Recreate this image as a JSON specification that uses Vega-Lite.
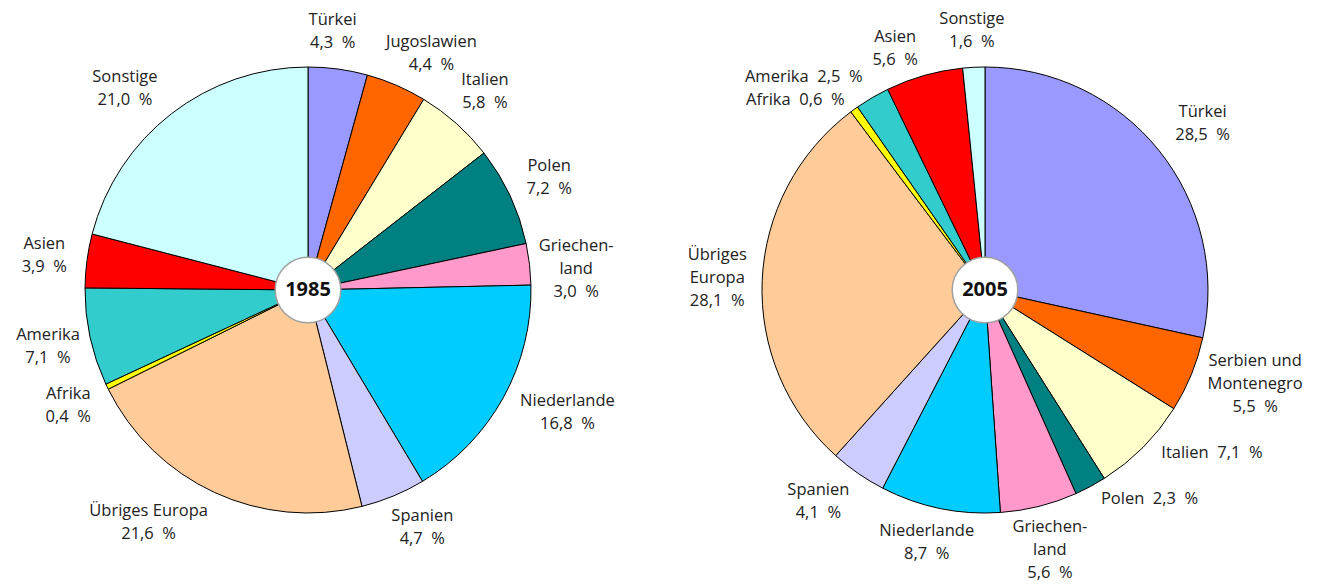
{
  "$schema": "https://vega.github.io/schema/vega-lite/v6.json",
  "padding": {"top": -26, "left": 0, "right": 0, "bottom": 0},
  "spacing": 36,
  "bounds": "flush",
  "background": "#ffffff",
  "datasets": {
    "d1985": [
      {"idx": 1, "name": "Türkei", "value": 4.3, "label": "Türkei\n4,3\u00a0 %"},
      {"idx": 2, "name": "Jugoslawien", "value": 4.4, "label": "Jugoslawien\n4,4\u00a0 %"},
      {"idx": 3, "name": "Italien", "value": 5.8, "label": "Italien\n5,8\u00a0 %"},
      {"idx": 4, "name": "Polen", "value": 7.2, "label": "Polen\n7,2\u00a0 %"},
      {"idx": 5, "name": "Griechenland", "value": 3.0, "label": "Griechen-\nland\n3,0\u00a0 %"},
      {"idx": 6, "name": "Niederlande", "value": 16.8, "label": "Niederlande\n16,8\u00a0 %"},
      {"idx": 7, "name": "Spanien", "value": 4.7, "label": "Spanien\n4,7\u00a0 %"},
      {"idx": 8, "name": "Übriges Europa", "value": 21.6, "label": "Übriges Europa\n21,6\u00a0 %"},
      {"idx": 9, "name": "Afrika", "value": 0.4, "label": "Afrika\n0,4\u00a0 %"},
      {"idx": 10, "name": "Amerika", "value": 7.1, "label": "Amerika\n7,1\u00a0 %"},
      {"idx": 11, "name": "Asien", "value": 3.9, "label": "Asien\n3,9\u00a0 %"},
      {"idx": 12, "name": "Sonstige", "value": 21.0, "label": "Sonstige\n21,0\u00a0 %"}
    ],
    "d2005": [
      {"idx": 1, "name": "Türkei", "value": 28.5, "label": "Türkei\n28,5\u00a0 %"},
      {"idx": 2, "name": "Serbien und Montenegro", "value": 5.5, "label": "Serbien und\nMontenegro\n5,5\u00a0 %"},
      {"idx": 3, "name": "Italien", "value": 7.1, "label": "Italien\u00a0 7,1\u00a0 %"},
      {"idx": 4, "name": "Polen", "value": 2.3, "label": "Polen\u00a0 2,3\u00a0 %"},
      {"idx": 5, "name": "Griechenland", "value": 5.6, "label": "Griechen-\nland\n5,6\u00a0 %"},
      {"idx": 6, "name": "Niederlande", "value": 8.7, "label": "Niederlande\n8,7\u00a0 %"},
      {"idx": 7, "name": "Spanien", "value": 4.1, "label": "Spanien\n4,1\u00a0 %"},
      {"idx": 8, "name": "Übriges Europa", "value": 28.1, "label": "Übriges\nEuropa\n28,1\u00a0 %"},
      {"idx": 9, "name": "Afrika", "value": 0.6, "label": "Afrika\u00a0 0,6\u00a0 %"},
      {"idx": 10, "name": "Amerika", "value": 2.5, "label": "Amerika\u00a0 2,5\u00a0 %"},
      {"idx": 11, "name": "Asien", "value": 5.6, "label": "Asien\n5,6\u00a0 %"},
      {"idx": 12, "name": "Sonstige", "value": 1.6, "label": "Sonstige\n1,6\u00a0 %"}
    ],
    "y1985": [{"year": "1985"}],
    "y2005": [{"year": "2005"}]
  },
  "hconcat": [
    {
      "width": 616,
      "height": 576,
      "data": {"name": "d1985"},
      "layer": [
        {
          "mark": {"type": "arc", "radius": 223, "stroke": "#000000", "strokeWidth": 1},
          "encoding": {
            "theta": {"field": "value", "type": "quantitative", "stack": true},
            "order": {"field": "idx", "type": "quantitative"},
            "color": {
              "field": "name", "type": "nominal", "legend": null,
              "scale": {
                "domain": ["Türkei", "Jugoslawien", "Serbien und Montenegro", "Italien", "Polen", "Griechenland", "Niederlande", "Spanien", "Übriges Europa", "Afrika", "Amerika", "Asien", "Sonstige"],
                "range": ["#9999ff", "#ff6600", "#ff6600", "#ffffcc", "#008080", "#ff99cc", "#00ccff", "#ccccff", "#ffcc99", "#ffff00", "#33cccc", "#ff0000", "#ccffff"]
              }
            }
          }
        },
        {
          "mark": {"type": "text", "radius": 266, "dy": -11.5},
          "encoding": {
            "theta": {"field": "value", "type": "quantitative", "stack": true},
            "order": {"field": "idx", "type": "quantitative"},
            "text": {"condition": {"test": "indexof(['Türkei','Jugoslawien','Griechenland','Niederlande','Spanien','Übriges Europa','Sonstige'], datum.name) < 0", "field": "label"}, "value": ""}
          }
        },
        {
          "mark": {"type": "text", "radius": 260, "thetaOffset": -0.04, "dy": -11.5},
          "encoding": {
            "theta": {"field": "value", "type": "quantitative", "stack": true},
            "order": {"field": "idx", "type": "quantitative"},
            "text": {"condition": {"test": "datum.name === 'Türkei'", "field": "label"}, "value": ""}
          }
        },
        {
          "mark": {"type": "text", "radius": 267, "thetaOffset": 0.073, "dy": -11.5},
          "encoding": {
            "theta": {"field": "value", "type": "quantitative", "stack": true},
            "order": {"field": "idx", "type": "quantitative"},
            "text": {"condition": {"test": "datum.name === 'Jugoslawien'", "field": "label"}, "value": ""}
          }
        },
        {
          "mark": {"type": "text", "radius": 269, "thetaOffset": 0.038, "dy": -23},
          "encoding": {
            "theta": {"field": "value", "type": "quantitative", "stack": true},
            "order": {"field": "idx", "type": "quantitative"},
            "text": {"condition": {"test": "datum.name === 'Griechenland'", "field": "label"}, "value": ""}
          }
        },
        {
          "mark": {"type": "text", "radius": 287, "thetaOffset": -0.063, "dy": -11.5},
          "encoding": {
            "theta": {"field": "value", "type": "quantitative", "stack": true},
            "order": {"field": "idx", "type": "quantitative"},
            "text": {"condition": {"test": "datum.name === 'Niederlande'", "field": "label"}, "value": ""}
          }
        },
        {
          "mark": {"type": "text", "radius": 264, "thetaOffset": -0.056, "dy": -11.5},
          "encoding": {
            "theta": {"field": "value", "type": "quantitative", "stack": true},
            "order": {"field": "idx", "type": "quantitative"},
            "text": {"condition": {"test": "datum.name === 'Spanien'", "field": "label"}, "value": ""}
          }
        },
        {
          "mark": {"type": "text", "radius": 282, "thetaOffset": 0.168, "dy": -11.5},
          "encoding": {
            "theta": {"field": "value", "type": "quantitative", "stack": true},
            "order": {"field": "idx", "type": "quantitative"},
            "text": {"condition": {"test": "datum.name === 'Übriges Europa'", "field": "label"}, "value": ""}
          }
        },
        {
          "mark": {"type": "text", "radius": 272, "thetaOffset": -0.080, "dy": -11.5},
          "encoding": {
            "theta": {"field": "value", "type": "quantitative", "stack": true},
            "order": {"field": "idx", "type": "quantitative"},
            "text": {"condition": {"test": "datum.name === 'Sonstige'", "field": "label"}, "value": ""}
          }
        },
        {
          "data": {"name": "y1985"},
          "mark": {"type": "circle", "size": 4300, "fill": "#ffffff", "stroke": "#a0a0a0", "strokeWidth": 1.5, "opacity": 1, "fillOpacity": 1},
          "encoding": {}
        },
        {
          "data": {"name": "y1985"},
          "mark": {"type": "text", "fontSize": 20, "fontWeight": "bold", "color": "#111111"},
          "encoding": {"text": {"field": "year", "type": "nominal"}}
        }
      ]
    },
    {
      "width": 666,
      "height": 576,
      "data": {"name": "d2005"},
      "layer": [
        {
          "mark": {"type": "arc", "radius": 223, "stroke": "#000000", "strokeWidth": 1},
          "encoding": {
            "theta": {"field": "value", "type": "quantitative", "stack": true},
            "order": {"field": "idx", "type": "quantitative"},
            "color": {
              "field": "name", "type": "nominal", "legend": null,
              "scale": {
                "domain": ["Türkei", "Jugoslawien", "Serbien und Montenegro", "Italien", "Polen", "Griechenland", "Niederlande", "Spanien", "Übriges Europa", "Afrika", "Amerika", "Asien", "Sonstige"],
                "range": ["#9999ff", "#ff6600", "#ff6600", "#ffffcc", "#008080", "#ff99cc", "#00ccff", "#ccccff", "#ffcc99", "#ffff00", "#33cccc", "#ff0000", "#ccffff"]
              }
            }
          }
        },
        {
          "mark": {"type": "text", "radius": 268, "dy": -23},
          "encoding": {
            "theta": {"field": "value", "type": "quantitative", "stack": true},
            "order": {"field": "idx", "type": "quantitative"},
            "text": {"condition": {"test": "indexof(['Griechenland','Übriges Europa'], datum.name) >= 0", "field": "label"}, "value": ""}
          }
        },
        {
          "mark": {"type": "text", "radius": 274, "thetaOffset": 0.024, "dy": -11.5},
          "encoding": {
            "theta": {"field": "value", "type": "quantitative", "stack": true},
            "order": {"field": "idx", "type": "quantitative"},
            "text": {"condition": {"test": "datum.name === 'Türkei'", "field": "label"}, "value": ""}
          }
        },
        {
          "mark": {"type": "text", "radius": 286, "thetaOffset": -0.054, "dy": -23},
          "encoding": {
            "theta": {"field": "value", "type": "quantitative", "stack": true},
            "order": {"field": "idx", "type": "quantitative"},
            "text": {"condition": {"test": "datum.name === 'Serbien und Montenegro'", "field": "label"}, "value": ""}
          }
        },
        {
          "mark": {"type": "text", "radius": 240, "thetaOffset": -0.038, "align": "left"},
          "encoding": {
            "theta": {"field": "value", "type": "quantitative", "stack": true},
            "order": {"field": "idx", "type": "quantitative"},
            "text": {"condition": {"test": "datum.name === 'Italien'", "field": "label"}, "value": ""}
          }
        },
        {
          "mark": {"type": "text", "radius": 239, "thetaOffset": -0.014, "align": "left"},
          "encoding": {
            "theta": {"field": "value", "type": "quantitative", "stack": true},
            "order": {"field": "idx", "type": "quantitative"},
            "text": {"condition": {"test": "datum.name === 'Polen'", "field": "label"}, "value": ""}
          }
        },
        {
          "mark": {"type": "text", "radius": 259, "thetaOffset": 0.023, "dy": -11.5},
          "encoding": {
            "theta": {"field": "value", "type": "quantitative", "stack": true},
            "order": {"field": "idx", "type": "quantitative"},
            "text": {"condition": {"test": "datum.name === 'Niederlande'", "field": "label"}, "value": ""}
          }
        },
        {
          "mark": {"type": "text", "radius": 269, "thetaOffset": 0.063, "dy": -11.5},
          "encoding": {
            "theta": {"field": "value", "type": "quantitative", "stack": true},
            "order": {"field": "idx", "type": "quantitative"},
            "text": {"condition": {"test": "datum.name === 'Spanien'", "field": "label"}, "value": ""}
          }
        },
        {
          "mark": {"type": "text", "radius": 236, "thetaOffset": -0.010, "align": "right"},
          "encoding": {
            "theta": {"field": "value", "type": "quantitative", "stack": true},
            "order": {"field": "idx", "type": "quantitative"},
            "text": {"condition": {"test": "datum.name === 'Afrika'", "field": "label"}, "value": ""}
          }
        },
        {
          "mark": {"type": "text", "radius": 246, "thetaOffset": 0.009, "align": "right"},
          "encoding": {
            "theta": {"field": "value", "type": "quantitative", "stack": true},
            "order": {"field": "idx", "type": "quantitative"},
            "text": {"condition": {"test": "datum.name === 'Amerika'", "field": "label"}, "value": ""}
          }
        },
        {
          "mark": {"type": "text", "radius": 258, "thetaOffset": -0.080, "dy": -11.5},
          "encoding": {
            "theta": {"field": "value", "type": "quantitative", "stack": true},
            "order": {"field": "idx", "type": "quantitative"},
            "text": {"condition": {"test": "datum.name === 'Asien'", "field": "label"}, "value": ""}
          }
        },
        {
          "mark": {"type": "text", "radius": 260, "dy": -11.5},
          "encoding": {
            "theta": {"field": "value", "type": "quantitative", "stack": true},
            "order": {"field": "idx", "type": "quantitative"},
            "text": {"condition": {"test": "datum.name === 'Sonstige'", "field": "label"}, "value": ""}
          }
        },
        {
          "data": {"name": "y2005"},
          "mark": {"type": "circle", "size": 4300, "fill": "#ffffff", "stroke": "#a0a0a0", "strokeWidth": 1.5, "opacity": 1, "fillOpacity": 1},
          "encoding": {}
        },
        {
          "data": {"name": "y2005"},
          "mark": {"type": "text", "fontSize": 20, "fontWeight": "bold", "color": "#111111"},
          "encoding": {"text": {"field": "year", "type": "nominal"}}
        }
      ]
    }
  ],
  "config": {
    "view": {"stroke": null},
    "text": {"font": "Open Sans", "fontSize": 16.5, "color": "#222222", "lineBreak": "\n", "lineHeight": 23, "align": "center", "baseline": "middle"}
  }
}
